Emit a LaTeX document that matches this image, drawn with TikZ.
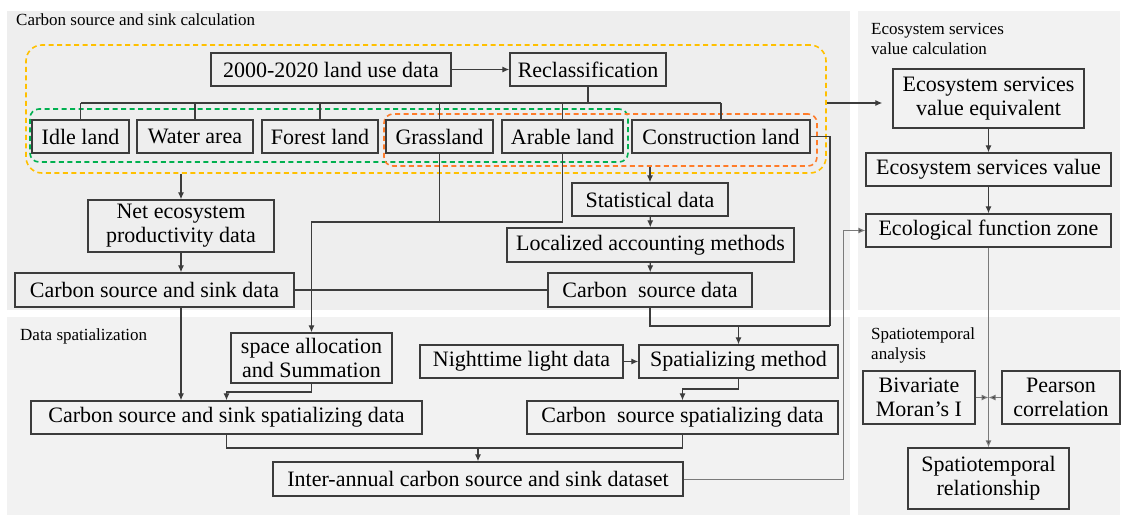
\documentclass[tikz,border=0pt]{standalone}
\usepackage{fontspec}
\setmainfont{Liberation Serif}
\usetikzlibrary{arrows.meta}

\definecolor{panelA}{HTML}{EEEEEE}
\definecolor{panelB}{HTML}{F2F2F2}
\definecolor{boxline}{HTML}{3C3C3C}
\definecolor{linkgray}{HTML}{7A7A7A}
\definecolor{grpyellow}{HTML}{FFC000}
\definecolor{grpgreen}{HTML}{00B050}
\definecolor{grporange}{HTML}{FF7C2A}

\newcommand{\boxfont}{\fontsize{22}{24}\selectfont}
\newcommand{\titlefont}{\fontsize{17}{20}\selectfont}

\begin{document}
\begin{tikzpicture}[x=1pt,y=-1pt]

  \tikzstyle{box}=[draw=boxline, line width=1.3pt, inner sep=1pt, align=center, font=\boxfont]
  \tikzstyle{paneltitle}=[anchor=north west, align=left, inner sep=0pt, font=\titlefont]
  \tikzstyle{grp}=[line width=1.6pt, dash pattern=on 5pt off 3.5pt, inner sep=0pt]
  \tikzstyle{link}=[draw=boxline, line width=1.2pt]
  \tikzstyle{arr}=[link, -{Latex[length=7pt,width=6pt]}]
  \tikzstyle{glink}=[draw=linkgray, line width=1pt, -{Latex[length=7pt,width=6pt,fill=boxline]}]

  \useasboundingbox (0,0) rectangle (1124,517);
  % panels
  \fill [panelA] (7,11) rectangle (850,310);
  \fill [panelB] (858,11) rectangle (1120,310);
  \fill [panelB] (7,317) rectangle (850,515);
  \fill [panelB] (858,317) rectangle (1120,515);
  \node [paneltitle] (t1) at (16,14) {Carbon source and sink calculation};
  \node [paneltitle] (t2) at (871,23) {Ecosystem services\\value calculation};
  \node [paneltitle] (t3) at (20,328) {Data spatialization};
  \node [paneltitle] (t4) at (871,327) {Spatiotemporal\\analysis};

  % dashed groups
  \node [grp, draw=grpyellow, rounded corners=16pt, minimum width=800, minimum height=128] (allgrp) at (426,109) {};
  \node [grp, draw=grpgreen, rounded corners=9pt, minimum width=598, minimum height=53] (sinkgrp) at (329,135.5) {};
  \node [grp, draw=grporange, rounded corners=9pt, minimum width=433, minimum height=52] (srcgrp) at (600.5,140) {};

  % land use
  \node [box, minimum width=240, minimum height=33] (landuse) at (331,69.5) {2000-2020 land use data};
  \node [box, minimum width=156, minimum height=33] (reclass) at (588,69.5) {Reclassification};
  \node [box, minimum width=97, minimum height=33] (idle) at (80.5,136.5) {Idle land};
  \node [box, minimum width=116, minimum height=33] (water) at (195,136.5) {Water area};
  \node [box, minimum width=116, minimum height=33] (forest) at (320,136.5) {Forest land};
  \node [box, minimum width=107, minimum height=33] (grass) at (439.5,136.5) {Grassland};
  \node [box, minimum width=121, minimum height=33] (arable) at (562.5,136.5) {Arable land};
  \node [box, minimum width=178, minimum height=33] (constr) at (721,136.5) {Construction land};

  % carbon calculation
  \node [box, minimum width=186, minimum height=52] (nep) at (181,226) {Net ecosystem\\productivity data};
  \node [box, minimum width=279, minimum height=34] (cssd) at (154.5,290) {Carbon source and sink data};
  \node [box, minimum width=156, minimum height=33] (stat) at (650,199.5) {Statistical data};
  \node [box, minimum width=287, minimum height=34] (local) at (650.5,245) {Localized accounting methods};
  \node [box, minimum width=204, minimum height=34] (csd) at (650,290) {Carbon\ \ source data};

  % spatialization
  \node [box, minimum width=161, minimum height=50] (space) at (311.5,358) {space allocation\\and Summation};
  \node [box, minimum width=391, minimum height=33] (csssp) at (226.5,417.5) {Carbon source and sink spatializing data};
  \node [box, minimum width=203, minimum height=33] (night) at (521.5,361.5) {Nighttime light data};
  \node [box, minimum width=199, minimum height=33] (spmeth) at (738.5,361.5) {Spatializing method};
  \node [box, minimum width=311, minimum height=33] (cssp) at (682.5,417.5) {Carbon\ \ source spatializing data};
  \node [box, minimum width=410, minimum height=34] (inter) at (478,479) {Inter-annual carbon source and sink dataset};

  % ecosystem services
  \node [box, minimum width=191, minimum height=59] (esve) at (988.5,98.5) {Ecosystem services\\value equivalent};
  \node [box, minimum width=245, minimum height=33] (esv) at (988.5,169.5) {Ecosystem services value};
  \node [box, minimum width=245, minimum height=33] (efz) at (988.5,230.5) {Ecological function zone};
  \node [box, minimum width=112, minimum height=53] (moran) at (919,397.5) {Bivariate\\Moran’s I};
  \node [box, minimum width=118, minimum height=53] (pearson) at (1061,397.5) {Pearson\\correlation};
  \node [box, minimum width=161, minimum height=61] (strel) at (988.5,478.5) {Spatiotemporal\\relationship};

  \coordinate (bus) at (0,103);
  \coordinate (gbus) at (0,222);
  \coordinate (jn) at (830,326);
  \coordinate (sm) at (0,389);
  \coordinate (sp) at (0,392);
  \coordinate (ib) at (0,448);
  \coordinate (gx) at (843,0);
  \coordinate (mid) at (988.5,397.5);

  \draw [arr] (landuse) -- (reclass);
  \draw [link] (reclass.south) -- (reclass.south |- bus);
  \draw [link] (idle.north |- bus) -- (constr.north |- bus);
  \foreach \n in {idle,water,forest,grass,arable,constr}
    \draw [link] (\n.north) -- (\n.north |- bus);

  \draw [arr] (allgrp.south -| nep.north) -- (nep.north);
  \draw [arr] (nep.south) -- (nep.south |- cssd.north);
  \draw [link] (cssd.east) -- (csd.west);
  \draw [link] (grass.south) -- (grass.south |- gbus);
  \draw [arr] (arable.south) |- (space.north |- gbus) -- (space.north);

  \draw [arr] (srcgrp.south -| stat.north) -- (stat.north);
  \draw [arr] (stat) -- (local);
  \draw [arr] (local) -- (csd);
  \draw [link] (constr.east) -| (jn);
  \draw [link] (csd.south) |- (jn);
  \draw [arr] (spmeth.north |- jn) -- (spmeth.north);
  \draw [arr] (night) -- (spmeth);
  \draw [arr] (spmeth.south) -- (spmeth.south |- sm) -| (cssp.north);

  \draw [arr] (cssd.south -| nep.south) -- (nep.south |- csssp.north);
  \draw [arr] (space.south) -- (space.south |- sp) -| (csssp.north);
  \draw [link] (csssp.south) |- (cssp.south |- ib) -- (cssp.south);
  \draw [arr] (inter.north |- ib) -- (inter.north);
  \draw [glink] (inter.east) -| (gx |- efz.west) -- (efz.west);

  \draw [arr, shorten >=10pt] (allgrp.east |- bus) -- (esve.west |- bus);
  \draw [arr] (esve) -- (esv);
  \draw [arr] (esv) -- (efz);
  \draw [glink] (efz.south) -- (strel.north);
  \draw [glink] (moran.east) -- (mid);
  \draw [glink] (pearson.west) -- (mid);

\end{tikzpicture}
\end{document}
